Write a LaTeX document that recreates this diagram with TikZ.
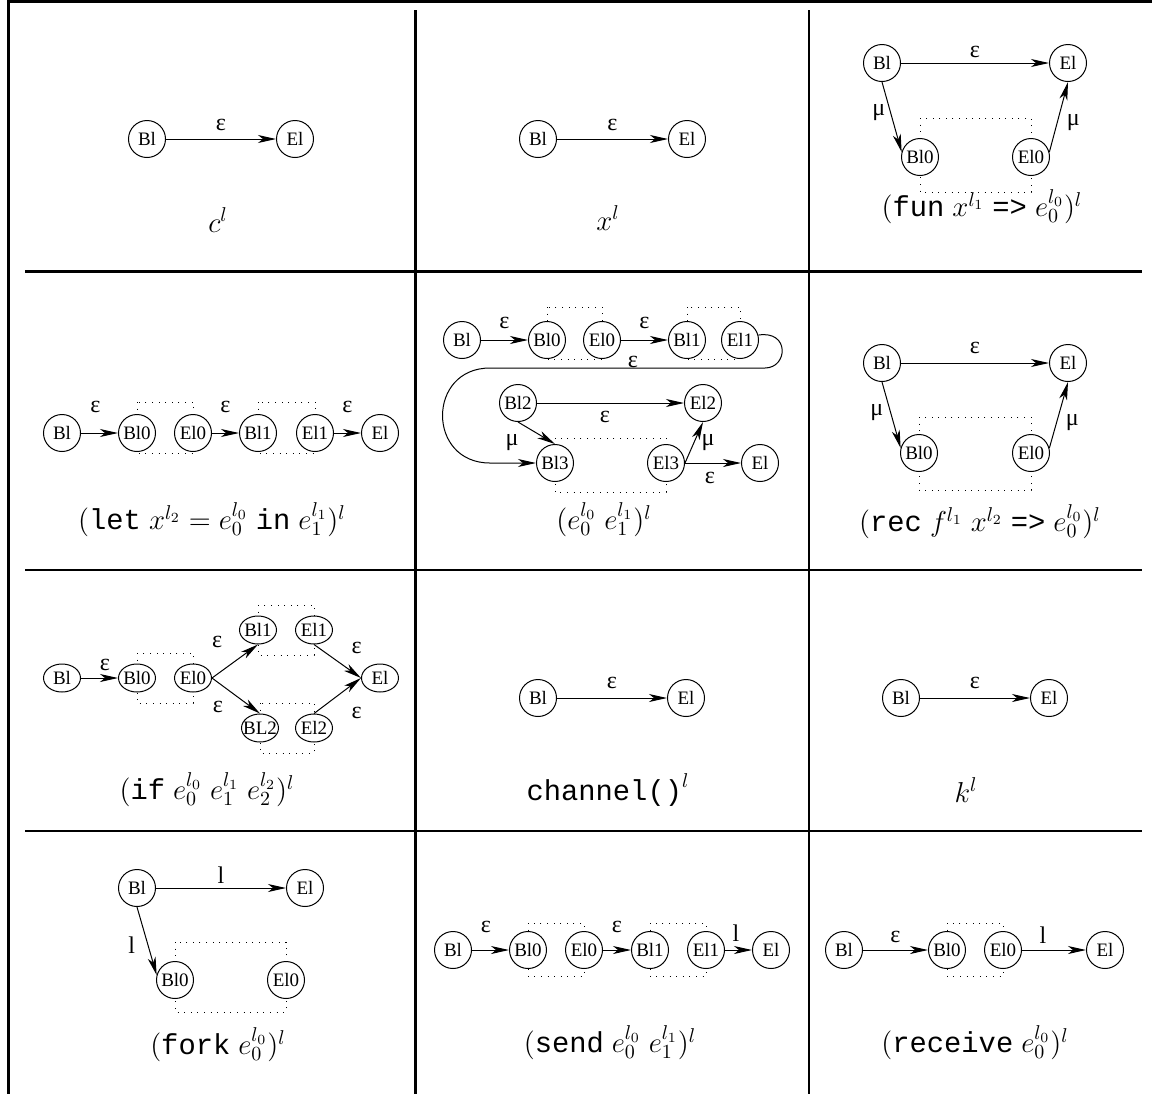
\documentclass[tikz,border=0pt]{standalone}
\usepackage{fontspec}
\setmainfont{Liberation Serif}
\setmonofont{Liberation Mono}
\usetikzlibrary{arrows.meta, shapes.geometric, backgrounds}

\begin{document}
\begin{tikzpicture}[
    x=0.5pt, y=-0.5pt,
    st/.style={circle, draw, line width=0.5pt, fill=white, inner sep=0pt, minimum size=18.5pt, font=\fontsize{9.5}{10}\selectfont},
    ellst/.style={st, ellipse, inner xsep=-3pt, minimum width=18.5pt, minimum height=14pt},
    arr/.style={-{Stealth[length=9pt, width=4pt, inset=2.5pt]}, line width=0.5pt},
    lbl/.style={inner sep=0pt, font=\fontsize{12}{13}\selectfont},
    dotbox/.style={line width=0.5pt, dash pattern=on 0.5pt off 2.8pt},
    tabrule/.style={line width=1.3pt},
    expr/.style={font=\fontsize{14.4}{16}\selectfont}
]
\useasboundingbox (0,0) rectangle (1152,1094);

% table
\draw[tabrule, line width=1.5pt] (8.5,0) -- (8.5,1094);
\draw[tabrule] (7,1.5) -- (1152,1.5);
\draw[tabrule, line width=1.5pt] (415,10) -- (415,1094);
\draw[tabrule] (809,10) -- (809,1094);
\foreach \y in {271.5, 570, 831}
    \draw[tabrule] (25,\y) -- (1142,\y);

% constant
\node[st] (const-Bl) at (147,139) {Bl};
\node[st] (const-El) at (295,139) {El};
\draw[arr] (const-Bl) -- node[lbl, yshift=7pt] {ε} (const-El);
\node[expr] (const-e) at (218,220) {$c^l$};

% variable
\node[st] (var-Bl) at (538,139) {Bl};
\node[st] (var-El) at (687,139) {El};
\draw[arr] (var-Bl) -- node[lbl, yshift=7pt] {ε} (var-El);
\node[expr] (var-e) at (608,218) {$x^l$};

% fun
\node[st] (fun-Bl) at (882,63) {Bl};
\node[st] (fun-El) at (1068,63) {El};
\node[st] (fun-Bl0) at (920,157) {Bl0};
\node[st] (fun-El0) at (1031,157) {El0};
\draw[arr] (fun-Bl) -- node[lbl, yshift=5.5pt] {ε} (fun-El);
\draw[arr] (fun-Bl.south) -- node[lbl, xshift=-6.5pt, yshift=2pt] {μ} (fun-Bl0.165);
\draw[arr] (fun-El0.15) -- node[lbl, xshift=7.25pt, yshift=-3pt] {μ} (fun-El.south);
\node[expr] (fun-e) at (982,207) {$(\texttt{fun}\;x^{l_1}\;\texttt{=>}\;e_0^{l_0})^l$};

% let
\foreach \n/\x in {Bl/62, Bl0/137, El0/193, Bl1/258, El1/315, El/380}
    \node[st] (let-\n) at (\x,433) {\n};
\draw[arr] (let-Bl) -- node[lbl, xshift=-2pt, yshift=13pt] {ε} (let-Bl0);
\draw[arr] (let-El0) -- node[lbl, yshift=13pt] {ε} (let-Bl1);
\draw[arr] (let-El1) -- node[lbl, yshift=13pt] {ε} (let-El);
\node[expr] (let-e) at (212,520) {$(\texttt{let}\;x^{l_2}=e_0^{l_0}\;\texttt{in}\;e_1^{l_1})^l$};

% application
\foreach \n/\x in {Bl/462, Bl0/547, El0/602, Bl1/687, El1/740}
    \node[st] (app-\n) at (\x,340) {\n};
\node[st] (app-Bl2) at (518,403) {Bl2};
\node[st] (app-El2) at (703,403) {El2};
\node[st] (app-Bl3) at (555,463) {Bl3};
\node[st] (app-El3) at (666,463) {El3};
\node[st] (app-El) at (760,463) {El};
\draw[arr] (app-Bl) -- node[lbl, yshift=8.5pt] {ε} (app-Bl0);
\draw[arr] (app-El0) -- node[lbl, yshift=8.5pt] {ε} (app-Bl1);
\draw[arr] (app-El1.15) .. controls (790,330) and (788,368) .. (765,368)
    -- node[lbl, xshift=2.75pt, yshift=3pt] {ε} (490,368)
    .. controls (426.7,368) and (426.7,463) .. (490,463) -- (app-Bl3.west);
\draw[arr] (app-Bl2) -- node[lbl, xshift=-2.75pt, yshift=-7pt] {ε} (app-El2);
\draw[arr] (app-Bl2.south) -- node[lbl, xshift=-12.25pt, yshift=-5pt] {μ} (app-Bl3.north);
\draw[arr] (app-El3.east) -- node[lbl, xshift=7pt] {μ} (app-El2.south);
\draw[arr] (app-El3) -- node[lbl, xshift=-1.5pt, yshift=-7.5pt] {ε} (app-El);
\node[expr] (app-e) at (604,520) {$(e_0^{l_0}\;e_1^{l_1})^l$};

% rec
\node[st] (rec-Bl) at (882,363) {Bl};
\node[st] (rec-El) at (1068,363) {El};
\node[st] (rec-Bl0) at (919,453) {Bl0};
\node[st] (rec-El0) at (1031,453) {El0};
\draw[arr] (rec-Bl) -- node[lbl, yshift=7.5pt] {ε} (rec-El);
\draw[arr] (rec-Bl.south) -- node[lbl, xshift=-7.25pt, yshift=1pt] {μ} (rec-Bl0.165);
\draw[arr] (rec-El0.15) -- node[lbl, xshift=6.75pt, yshift=-4pt] {μ} (rec-El.south);
\node[expr] (rec-e) at (980,522) {$(\texttt{rec}\;f^{l_1}\;x^{l_2}\;\texttt{=>}\;e_0^{l_0})^l$};

% if
\foreach \n/\x/\y in {Bl/62/678, Bl0/137/678, El0/193/678, Bl1/258/630, El1/314/630, BL2/260/728, El2/314/728, El/380/678}
    \node[ellst] (if-\n) at (\x,\y) {\n};
\draw[arr] (if-Bl) -- node[lbl, xshift=2.75pt, yshift=6.5pt] {ε} (if-Bl0);
\draw[arr] (if-El0.east) -- node[lbl, xshift=-8.9pt, yshift=9.5pt] {ε} (if-Bl1.south);
\draw[arr] (if-El0.east) -- node[lbl, xshift=-9pt, yshift=-5.5pt] {ε} (if-BL2.north);
\draw[arr] (if-El1.south) -- node[lbl, xshift=9.6pt, yshift=6.5pt] {ε} (if-El.west);
\draw[arr] (if-El2.north) -- node[lbl, xshift=9.6pt, yshift=-8.5pt] {ε} (if-El.west);
\node[expr] (if-e) at (207,790) {$(\texttt{if}\;e_0^{l_0}\;e_1^{l_1}\;e_2^{l_2})^l$};

% channel
\node[st] (chan-Bl) at (538,698) {Bl};
\node[st] (chan-El) at (686,698) {El};
\draw[arr] (chan-Bl) -- node[lbl, yshift=7.5pt] {ε} (chan-El);
\node[expr] (chan-e) at (608,790) {$\texttt{channel()}^l$};

% channel constant
\node[st] (kon-Bl) at (901,698) {Bl};
\node[st] (kon-El) at (1049,698) {El};
\draw[arr] (kon-Bl) -- node[lbl, yshift=7.5pt] {ε} (kon-El);
\node[expr] (kon-e) at (966,790) {$k^l$};

% fork
\node[st] (fork-Bl) at (137,888) {Bl};
\node[st] (fork-El) at (305,888) {El};
\node[st] (fork-Bl0) at (175,980) {Bl0};
\node[st] (fork-El0) at (286,980) {El0};
\draw[arr] (fork-Bl) -- node[lbl, yshift=6.5pt] {l} (fork-El);
\draw[arr] (fork-Bl.south) -- node[lbl, xshift=-7.5pt, yshift=-2pt] {l} (fork-Bl0.165);
\node[expr] (fork-e) at (218,1045) {$(\texttt{fork}\;e_0^{l_0})^l$};

% send
\foreach \n/\x in {Bl/453, Bl0/528, El0/584, Bl1/650, El1/706, El/771}
    \node[st] (send-\n) at (\x,950) {\n};
\draw[arr] (send-Bl) -- node[lbl, xshift=-2.25pt, yshift=11.5pt] {ε} (send-Bl0);
\draw[arr] (send-El0) -- node[lbl, yshift=11.5pt] {ε} (send-Bl1);
\draw[arr] (send-El1) -- node[lbl, xshift=-1.25pt, yshift=8.5pt] {l} (send-El);
\node[expr] (send-e) at (610,1043) {$(\texttt{send}\;e_0^{l_0}\;e_1^{l_1})^l$};

% receive
\foreach \n/\x in {Bl/844, Bl0/947, El0/1003, El/1105}
    \node[st] (recv-\n) at (\x,950) {\n};
\draw[arr] (recv-Bl) -- node[lbl, yshift=6.5pt] {ε} (recv-Bl0);
\draw[arr] (recv-El0) -- node[lbl, xshift=-5.5pt, yshift=7.5pt] {l} (recv-El);
\node[expr] (recv-e) at (975,1043) {$(\texttt{receive}\;e_0^{l_0})^l$};

% sub-expression boxes
\begin{scope}[on background layer]
    \draw[dotbox] ([yshift=19.5pt]fun-Bl0.center) rectangle ([yshift=-17.5pt]fun-El0.center);
    \draw[dotbox] ([yshift=15.5pt]let-Bl0.center) rectangle ([yshift=-10pt]let-El0.center);
    \draw[dotbox] ([yshift=15.5pt]let-Bl1.center) rectangle ([yshift=-10pt]let-El1.center);
    \draw[dotbox] ([yshift=16.5pt]app-Bl0.center) rectangle ([yshift=-9.5pt]app-El0.center);
    \draw[dotbox] ([yshift=16.5pt]app-Bl1.center) rectangle ([yshift=-9.5pt]app-El1.center);
    \draw[dotbox] ([yshift=12.5pt]app-Bl3.center) rectangle ([yshift=-14.5pt]app-El3.center);
    \draw[dotbox] ([yshift=18pt]rec-Bl0.center) rectangle ([yshift=-18.5pt]rec-El0.center);
    \draw[dotbox] ([yshift=12.5pt]if-Bl0.center) rectangle ([yshift=-12.5pt]if-El0.center);
    \draw[dotbox] ([yshift=12.5pt]if-Bl1.center) rectangle ([yshift=-12.5pt]if-El1.center);
    \draw[dotbox] ([yshift=12.5pt]if-BL2.center) rectangle ([yshift=-12.5pt]if-El2.center);
    \draw[dotbox] ([yshift=19pt]fork-Bl0.center) rectangle ([yshift=-16pt]fork-El0.center);
    \draw[dotbox] ([yshift=13.5pt]send-Bl0.center) rectangle ([yshift=-13pt]send-El0.center);
    \draw[dotbox] ([yshift=13.5pt]send-Bl1.center) rectangle ([yshift=-13pt]send-El1.center);
    \draw[dotbox] ([yshift=13.5pt]recv-Bl0.center) rectangle ([yshift=-13pt]recv-El0.center);
\end{scope}
\end{tikzpicture}
\end{document}
